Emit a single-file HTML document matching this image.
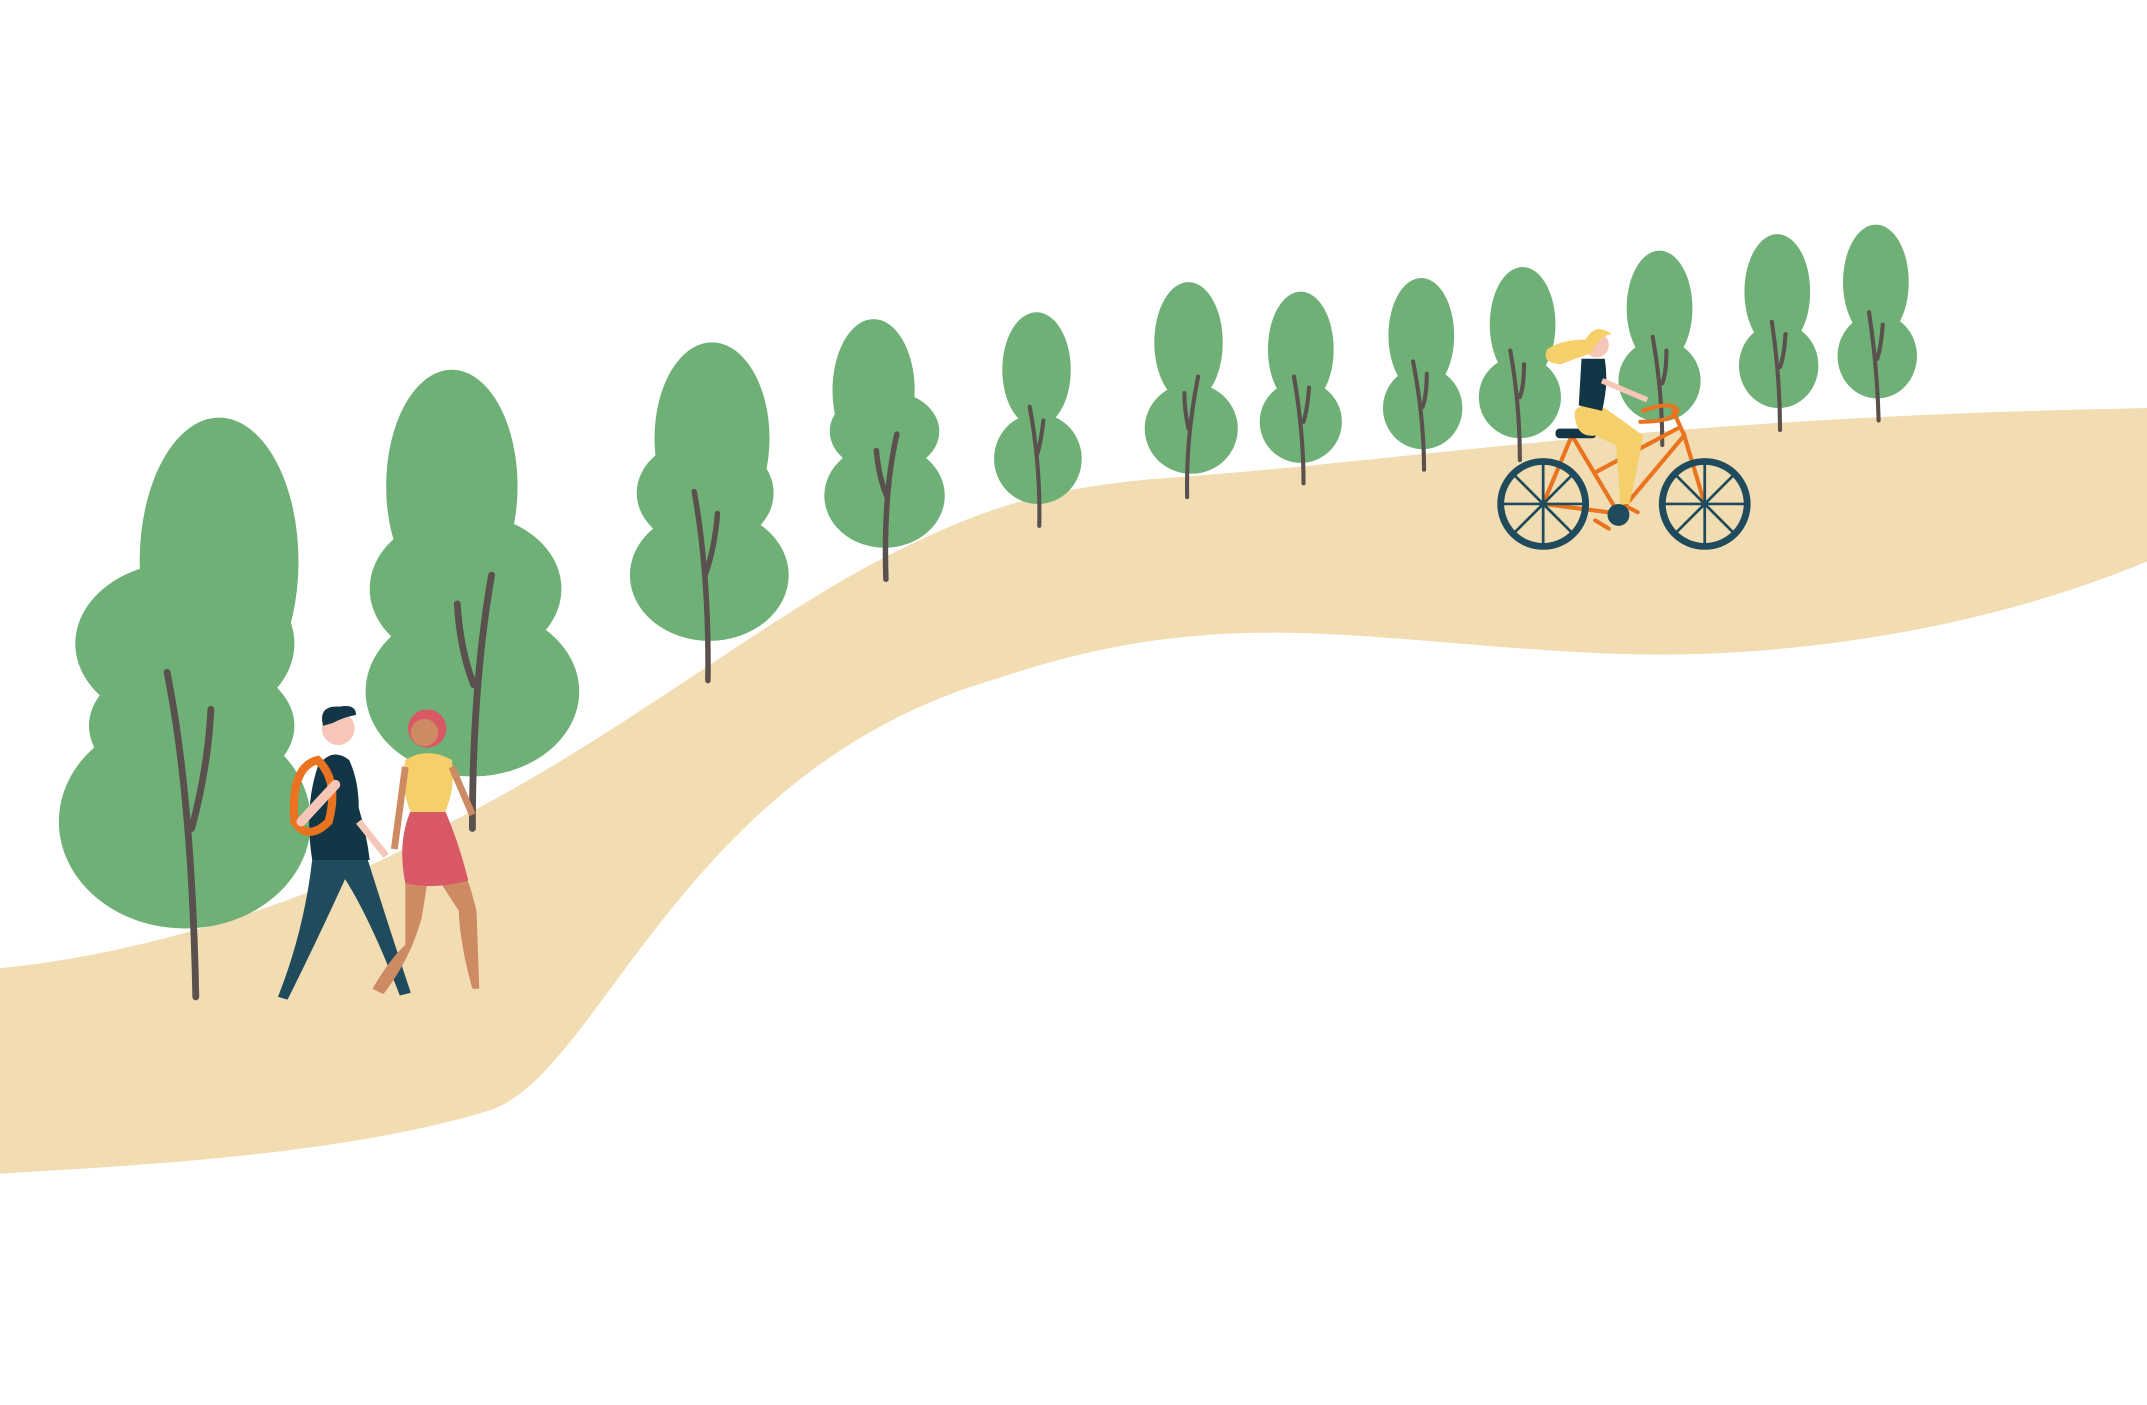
<!DOCTYPE html>
<html><head><meta charset="utf-8"><style>html,body{margin:0;padding:0;background:#fff}svg{display:block}</style></head>
<body>
<svg width="2147" height="1405" viewBox="0 0 1568 1026" preserveAspectRatio="none" xmlns="http://www.w3.org/2000/svg">
<rect width="1568" height="1026" fill="#fff"/>
<!-- path -->
<path d="M0,707 C120,695 250,650 330,600 C450,540 560,450 650,405 C720,370 760,358 840,350 C1050,335 1200,305 1568,298 L1568,410 C1460,455 1330,478 1210,478 C1120,478 1010,462 930,462 C850,462 790,475 730,495 C500,560 440,780 360,810 C250,845 80,852 0,857 Z" fill="#F2DCB2"/>
<g fill="#6FB077">
<!-- tree 1 -->
<ellipse cx="160" cy="410" rx="58" ry="105"/><ellipse cx="135" cy="470" rx="80" ry="60"/><ellipse cx="135" cy="600" rx="92" ry="78"/><ellipse cx="140" cy="530" rx="75" ry="50"/>
<!-- tree 2 -->
<ellipse cx="330" cy="355" rx="48" ry="85"/><ellipse cx="340" cy="430" rx="70" ry="55"/><ellipse cx="345" cy="505" rx="78" ry="62"/>
<!-- tree 3 -->
<ellipse cx="520" cy="320" rx="42" ry="70"/><ellipse cx="515" cy="360" rx="50" ry="40"/><ellipse cx="518" cy="420" rx="58" ry="48"/>
<!-- tree 4 -->
<ellipse cx="638" cy="285" rx="30" ry="52"/><ellipse cx="646" cy="315" rx="40" ry="30"/><ellipse cx="646" cy="362" rx="44" ry="38"/>
<!-- trees 5-12 -->
<ellipse cx="757" cy="270" rx="25" ry="42"/><ellipse cx="758" cy="335" rx="32" ry="33"/>
<ellipse cx="868" cy="250" rx="25" ry="44"/><ellipse cx="870" cy="313" rx="34" ry="33"/>
<ellipse cx="950" cy="255" rx="24" ry="42"/><ellipse cx="950" cy="308" rx="30" ry="30"/>
<ellipse cx="1038" cy="245" rx="24" ry="42"/><ellipse cx="1039" cy="298" rx="29" ry="30"/>
<ellipse cx="1112" cy="237" rx="24" ry="42"/><ellipse cx="1110" cy="290" rx="30" ry="30"/>
<ellipse cx="1212" cy="225" rx="24" ry="42"/><ellipse cx="1212" cy="278" rx="30" ry="30"/>
<ellipse cx="1298" cy="213" rx="24" ry="42"/><ellipse cx="1299" cy="267" rx="29" ry="31"/>
<ellipse cx="1370" cy="206" rx="24" ry="42"/><ellipse cx="1371" cy="260" rx="29" ry="31"/>
</g>
<g stroke="#5A514E" stroke-linecap="round" fill="none">
<g stroke-width="5"><path d="M122,491 Q140,580 143,728"/><path d="M154,518 Q152,560 140,605"/>
<path d="M359,420 Q345,500 345,605"/><path d="M334,441 Q336,475 346,500"/></g>
<g stroke-width="4"><path d="M507,359 Q518,420 517,497"/><path d="M524,375 Q522,400 515,420"/>
<path d="M655,317 Q645,360 647,423"/><path d="M640,329 Q642,350 648,363"/></g>
<g stroke-width="3"><path d="M752,297 Q760,340 759,384"/><path d="M762,307 Q760,325 757,333"/>
<path d="M875,275 Q866,320 867,363"/><path d="M865,287 Q865,300 868,313"/>
<path d="M945,275 Q952,315 952,353"/><path d="M956,283 Q955,298 952,308"/>
<path d="M1032,264 Q1040,305 1040,343"/><path d="M1042,273 Q1042,288 1039,297"/>
<path d="M1103,256 Q1110,295 1110,336"/><path d="M1113,266 Q1113,282 1110,290"/>
<path d="M1207,246 Q1214,285 1214,325"/><path d="M1217,256 Q1217,272 1214,280"/>
<path d="M1294,235 Q1300,275 1300,314"/><path d="M1304,244 Q1303,260 1300,268"/>
<path d="M1365,228 Q1371,268 1372,307"/><path d="M1375,237 Q1374,252 1371,262"/></g>
</g>
<!-- hiker 1 -->
<g>
<path d="M228,628 L268,626 Q285,680 300,725 L292,727 Q270,670 252,642 Q230,690 210,730 L203,728 Q222,680 228,628Z" fill="#1F4B5C"/>
<path d="M228,628 Q222,590 232,560 Q242,545 255,555 Q262,570 262,590 Q268,610 270,628Z" fill="#133646"/>
<path d="M232,555 Q212,560 215,600 Q225,615 240,600 Q248,570 232,555Z" fill="none" stroke="#E9731E" stroke-width="6"/>
<circle cx="247" cy="532" r="12" fill="#F6C7B8"/>
<path d="M236,530 Q232,515 248,516 Q260,514 260,522 Q250,524 243,528Z" fill="#133646"/>
<path d="M262,600 L282,625" stroke="#F6C7B8" stroke-width="5"/>
<path d="M245,573 L220,600" stroke="#F6C7B8" stroke-width="7" stroke-linecap="round"/>
</g>
<!-- hiker 2 -->
<g>
<path d="M296,645 L296,690 Q285,700 272,722 L280,726 Q300,700 308,670 L312,645Z" fill="#CD8A63"/>
<path d="M322,645 L335,665 Q336,690 345,722 L350,722 L348,665 Q343,645 340,640Z" fill="#CD8A63"/>
<path d="M300,592 L325,592 Q335,615 342,643 Q318,650 296,645 Q290,615 300,592Z" fill="#D85866"/>
<path d="M296,555 Q312,545 330,555 Q333,575 325,593 L300,593 Q292,575 296,555Z" fill="#F5CF6A"/>
<circle cx="312" cy="532" r="14" fill="#D85866"/>
<circle cx="310" cy="535" r="10" fill="#CD8A63"/>
<path d="M296,560 L288,620" stroke="#CD8A63" stroke-width="5"/>
<path d="M330,560 L345,595" stroke="#CD8A63" stroke-width="5"/>
</g>
<!-- bike -->
<g stroke="#E9731E" stroke-width="3" fill="none" stroke-linecap="round">
<path d="M1127,368 L1148,318 L1182,375 L1230,318 L1245,368"/>
<path d="M1127,368 L1182,375"/><path d="M1165,345 L1225,313"/><path d="M1222,300 L1230,318"/>
<path d="M1200,300 Q1222,292 1225,300 Q1222,308 1198,308"/>
<path d="M1165,380 L1175,386"/><path d="M1188,370 L1196,374"/>
</g>
<g stroke="#1F4B5C" stroke-width="2" fill="none">
<circle cx="1127" cy="368" r="31" stroke-width="5"/><circle cx="1245" cy="368" r="31" stroke-width="5"/>
<path d="M1127,337 L1127,399 M1096,368 L1158,368 M1105,346 L1149,390 M1149,346 L1105,390"/>
<path d="M1245,337 L1245,399 M1214,368 L1276,368 M1223,346 L1267,390 M1267,346 L1223,390"/>
</g>
<circle cx="1182" cy="376" r="8" fill="#1F4B5C"/>
<rect x="1136" y="313" width="30" height="7" rx="3" fill="#133646"/>
<path d="M1150,300 Q1160,290 1175,300 L1200,318 Q1195,345 1190,368 L1183,368 Q1182,340 1180,325 L1165,318 Q1150,320 1150,300Z" fill="#F5CF6A"/>
<path d="M1155,262 L1172,262 Q1175,280 1170,300 L1153,296Z" fill="#133646"/>
<path d="M1170,278 L1203,292" stroke="#F6C7B8" stroke-width="4"/>
<circle cx="1166" cy="252" r="9" fill="#F6C7B8"/>
<path d="M1158,248 Q1165,235 1177,244 Q1168,245 1162,258 Q1150,262 1140,266 Q1125,265 1130,255 Q1140,248 1158,248Z" fill="#F5CF6A"/>
</svg>
</body></html>
